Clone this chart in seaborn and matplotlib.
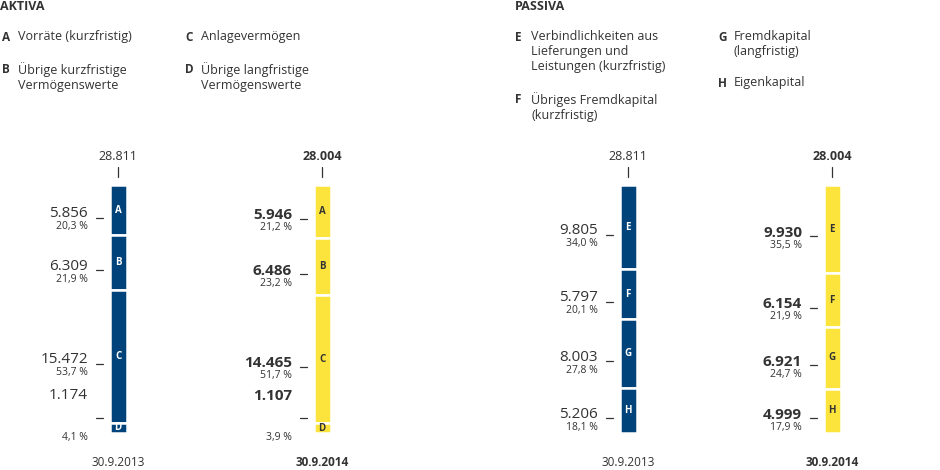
import matplotlib
matplotlib.use("Agg")
import matplotlib.pyplot as plt
import seaborn as sns

sns.set_theme(style="white")
plt.rcParams['font.family'] = ['Open Sans', 'DejaVu Sans']

letters_a = ["A", "B", "C", "D"]
letters_p = ["E", "F", "G", "H"]
aktiva_2013 = [5856, 6309, 15472, 1174]
aktiva_2013_pct = [20.3, 21.9, 53.7, 4.1]
aktiva_2014 = [5946, 6486, 14465, 1107]
aktiva_2014_pct = [21.2, 23.2, 51.7, 3.9]
passiva_2013 = [9805, 5797, 8003, 5206]
passiva_2013_pct = [34.0, 20.1, 27.8, 18.1]
passiva_2014 = [9930, 6154, 6921, 4999]
passiva_2014_pct = [35.5, 21.9, 24.7, 17.9]
totals = ["28.811", "28.004", "28.811", "28.004"]
dates = ["30.9.2013", "30.9.2014", "30.9.2013", "30.9.2014"]

BLUE = "#00427a"
YEL = "#fde43c"
TXT = "#333333"

W, H = 940, 470
fig = plt.figure(figsize=(9.4, 4.7), dpi=100)
def fy(py): return 1 - py / H

fig.text(0 / W, fy(6), "AKTIVA", fontsize=9, fontweight="bold", color=TXT, va="center")
fig.text(515 / W, fy(6), "PASSIVA", fontsize=9, fontweight="bold", color=TXT, va="center")
leg = [
    (2, 31, "A", "Vorräte (kurzfristig)"),
    (2, 63, "B", "Übrige kurzfristige\nVermögenswerte"),
    (185, 31, "C", "Anlagevermögen"),
    (185, 63, "D", "Übrige langfristige\nVermögenswerte"),
    (515, 31, "E", "Verbindlichkeiten aus\nLieferungen und\nLeistungen (kurzfristig)"),
    (515, 93, "F", "Übriges Fremdkapital\n(kurzfristig)"),
    (718, 31, "G", "Fremdkapital\n(langfristig)"),
    (718, 77, "H", "Eigenkapital"),
]
for x, y, l, t in leg:
    fig.text(x / W, fy(y), l, fontsize=8.5, fontweight="bold", color=TXT, va="top", ha="left")
    fig.text((x + 16) / W, fy(y - 1), t, fontsize=9, color=TXT, va="top", ha="left", linespacing=1.2)

ax = fig.add_axes([0, fy(433), 1, (433 - 185) / H])
ax.set_xlim(0, W)
ax.set_ylim(100, 0)
ax.axis("off")

groups = [
    (118, aktiva_2013, aktiva_2013_pct, letters_a, BLUE, False),
    (322, aktiva_2014, aktiva_2014_pct, letters_a, YEL, True),
    (628, passiva_2013, passiva_2013_pct, letters_p, BLUE, False),
    (832, passiva_2014, passiva_2014_pct, letters_p, YEL, True),
]
def fmt(v): return f"{v:,}".replace(",", ".")
for gi, (x, vals, pcts, lets, col, bold) in enumerate(groups):
    bottom = 0
    for v, p, l in zip(vals, pcts, lets):
        ax.bar(x, p, bottom=bottom, width=17, color=col, edgecolor="white", linewidth=1.8)
        c = bottom + p / 2
        lc = "white" if col == BLUE else TXT
        ax.text(x, c, l, ha="center", va="center", fontsize=7, fontweight="bold", color=lc)
        if p > 6:
            dash, vy, py = c + 3, c + 4.5, c + 4.5
        else:
            dash, vy, py = c - 4, c - 10, c + 1.5
        ax.plot([x - 22, x - 15], [dash, dash], color=TXT, lw=0.9)
        ax.text(x - 30, vy, fmt(v), ha="right", va="bottom", fontsize=11,
                fontweight="bold" if bold else "normal", color=TXT)
        ax.text(x - 30, py, f"{p:.1f}".replace(".", ",") + " %", ha="right", va="top",
                fontsize=7.5, color=TXT)
        bottom += p
    fig.text(x / W, fy(157), totals[gi], ha="center", va="center", fontsize=9,
             fontweight="bold" if bold else "normal", color=TXT)
    fig.add_artist(plt.Line2D([x / W, x / W], [fy(167), fy(177)], color=TXT, lw=0.9))
    fig.text(x / W, fy(463), dates[gi], ha="center", va="center", fontsize=8.5,
             fontweight="bold" if bold else "normal", color=TXT)

fig.savefig("out.png", dpi=100)
